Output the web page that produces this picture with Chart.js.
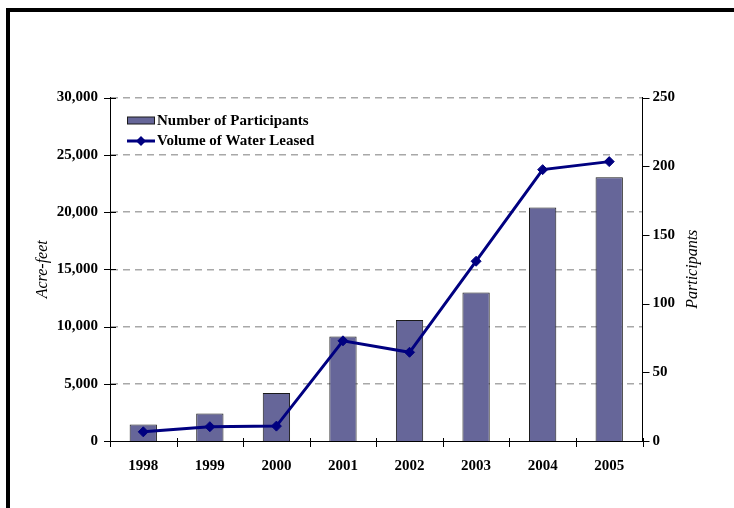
<!DOCTYPE html>
<html>
<head>
<meta charset="utf-8">
<script src="https://cdn.jsdelivr.net/npm/chart.js@4/dist/chart.umd.min.js"></script>
<style>
  html, body { margin: 0; padding: 0; background: #fff; }
  #wrap { position: relative; width: 734px; height: 508px; overflow: hidden; }
  #frame { position: absolute; left: 6px; top: 8px; width: 800px; height: 600px;
           border-top: 4px solid #000; border-left: 4px solid #000; box-sizing: border-box; pointer-events: none; }
  canvas { position: absolute; left: 0; top: 0; }
</style>
</head>
<body>
<div id="wrap">
  <canvas id="chart" width="734" height="508"></canvas>
  <div id="frame"></div>
</div>
<script>
// Water leasing program, 1998-2005
const years = ['1998', '1999', '2000', '2001', '2002', '2003', '2004', '2005'];
const participants = [12, 20, 35, 76, 88, 108, 170, 192];          // right axis
const acreFeet = [800, 1250, 1300, 8750, 7750, 15700, 23700, 24400]; // left axis

const leftAxisTitle = 'Acre-feet';
const rightAxisTitle = 'Participants';

const SERIF = '"Liberation Serif", "Times New Roman", serif';
const tickFont = { family: SERIF, size: 15, weight: 'bold' };

// Tick marks: crossing on the left axis, outward on the right axis, boundary ticks on x
const axisTicks = {
  id: 'axisTicks',
  afterDraw(chart) {
    const { ctx, scales: { x, y, y1 } } = chart;
    ctx.save();
    ctx.strokeStyle = '#000';
    ctx.lineWidth = 1;
    ctx.beginPath();
    y.ticks.forEach((t, i) => {
      const py = Math.round(y.getPixelForTick(i)) + 0.5;
      ctx.moveTo(y.right - 6, py); ctx.lineTo(y.right + 6, py);
    });
    y1.ticks.forEach((t, i) => {
      const py = Math.round(y1.getPixelForTick(i)) + 0.5;
      ctx.moveTo(y1.left, py); ctx.lineTo(y1.left + 7, py);
    });
    for (let i = 0; i <= years.length; i++) {
      const px = Math.round(x.getPixelForValue(i - 0.5)) + 0.5;
      ctx.moveTo(px, x.top - 3); ctx.lineTo(px, x.top + 6);
    }
    ctx.stroke();

    // Rotated axis titles, both reading bottom-to-top
    ctx.fillStyle = '#000';
    ctx.font = 'italic 16px ' + SERIF;
    ctx.textAlign = 'center';
    ctx.textBaseline = 'middle';
    const midY = (chart.chartArea.top + chart.chartArea.bottom) / 2;
    [[y.left + 43, leftAxisTitle], [y1.right - 41, rightAxisTitle]].forEach(([tx, text]) => {
      ctx.save();
      ctx.translate(tx, midY);
      ctx.rotate(-Math.PI / 2);
      ctx.fillText(text, 0, 0);
      ctx.restore();
    });
    ctx.restore();
  }
};

// Legend drawn inside the plot area, top-left corner
const innerLegend = {
  id: 'innerLegend',
  afterDraw(chart) {
    const { ctx, chartArea } = chart;
    const x0 = chartArea.left + 17;
    const rows = [chartArea.top + 23, chartArea.top + 43.5];
    ctx.save();
    ctx.font = 'bold 15px ' + SERIF;
    ctx.textBaseline = 'middle';
    ctx.textAlign = 'left';
    chart.data.datasets.forEach((ds, i) => {
      const cy = rows[i];
      if (ds.type === 'bar') {
        ctx.fillStyle = ds.backgroundColor;
        ctx.fillRect(x0, cy - 3.5, 28, 7);
        ctx.strokeStyle = ds.borderColor;
        ctx.lineWidth = 1;
        ctx.strokeRect(x0 + 0.5, cy - 3.5, 27, 7);
      } else {
        ctx.strokeStyle = ds.borderColor;
        ctx.lineWidth = ds.borderWidth;
        ctx.beginPath();
        ctx.moveTo(x0, cy); ctx.lineTo(x0 + 28, cy);
        ctx.stroke();
        ctx.fillStyle = ds.pointBackgroundColor;
        const r = ds.pointRadius;
        ctx.beginPath();
        ctx.moveTo(x0 + 14, cy - r); ctx.lineTo(x0 + 14 + r, cy);
        ctx.lineTo(x0 + 14, cy + r); ctx.lineTo(x0 + 14 - r, cy);
        ctx.closePath(); ctx.fill();
      }
      ctx.fillStyle = '#000';
      ctx.fillText(ds.label, x0 + 30, cy + 0.5);
    });
    ctx.restore();
  }
};

new Chart(document.getElementById('chart'), {
  type: 'bar',
  data: {
    labels: years,
    datasets: [
      {
        type: 'bar',
        label: 'Number of Participants',
        data: participants,
        yAxisID: 'y1',
        backgroundColor: '#666699',
        borderColor: '#1a1a1a',
        borderWidth: 1,
        categoryPercentage: 1,
        barPercentage: 0.41,
        order: 2
      },
      {
        type: 'line',
        label: 'Volume of Water Leased',
        data: acreFeet,
        yAxisID: 'y',
        borderColor: '#000080',
        backgroundColor: '#000080',
        borderWidth: 3,
        tension: 0,
        pointStyle: 'rectRot',
        pointRadius: 5,
        pointBackgroundColor: '#000080',
        pointBorderColor: '#000080',
        pointBorderWidth: 1,
        order: 1
      }
    ]
  },
  options: {
    responsive: false,
    animation: false,
    locale: 'en-US',
    layout: { padding: { top: 97.5, left: 0, right: 0, bottom: 0 } },
    plugins: { legend: { display: false }, tooltip: { enabled: false } },
    scales: {
      x: {
        grid: { display: false, drawTicks: false },
        border: { display: true, color: '#000', width: 1 },
        ticks: { font: tickFont, color: '#000', padding: 16, maxRotation: 0 },
        afterFit(scale) { scale.height = 67; }
      },
      y: {
        position: 'left',
        min: 0, max: 30000,
        ticks: { stepSize: 5000, font: tickFont, color: '#000', padding: 12 },
        grid: {
          color: (c) => (c.tick && c.tick.value === 0 ? 'rgba(0,0,0,0)' : '#a8a8a8'),
          lineWidth: 1.5,
          drawTicks: false
        },
        border: { display: true, color: '#000', width: 1, dash: [7, 5] },
        afterFit(scale) { scale.width = 110; }
      },
      y1: {
        position: 'right',
        min: 0, max: 250,
        ticks: { stepSize: 50, font: tickFont, color: '#000', padding: 10 },
        grid: { display: false, drawTicks: false },
        border: { display: true, color: '#000', width: 1 },
        afterFit(scale) { scale.width = 91.5; }
      }
    }
  },
  plugins: [axisTicks, innerLegend]
});
</script>
</body>
</html>
